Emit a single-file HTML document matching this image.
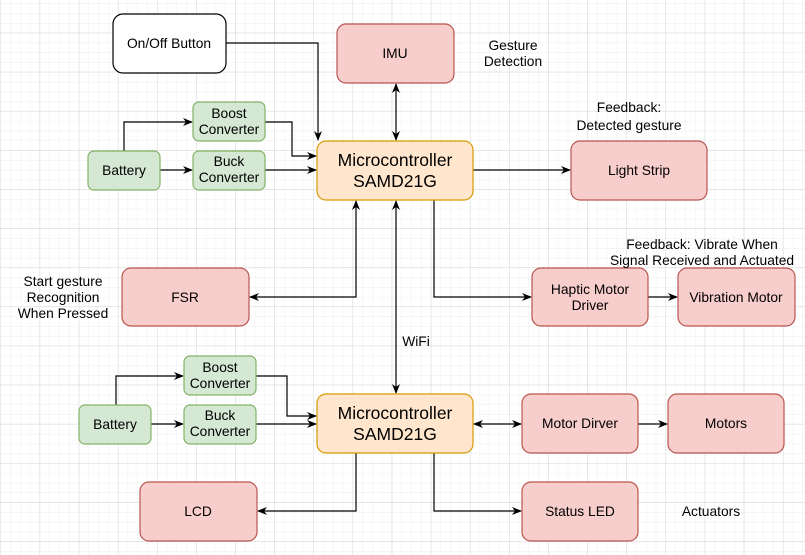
<!DOCTYPE html>
<html><head><meta charset="utf-8"><style>
html,body{margin:0;padding:0;background:#fff}
svg{display:block}
text{font-family:"Liberation Sans",Arial,sans-serif;font-size:13.8px;fill:#000;text-anchor:middle}
.big{font-size:17.5px}
</style></head><body>
<svg width="805" height="555" viewBox="0 0 805 555" xmlns="http://www.w3.org/2000/svg">
<defs>
<pattern id="minor" width="9.78" height="9.78" patternUnits="userSpaceOnUse" x="1" y="4">
<path d="M9.78 0V9.78M0 9.78H9.78" stroke="#eeeeee" stroke-width="1" fill="none"/>
</pattern>
<pattern id="major" width="39.12" height="39.12" patternUnits="userSpaceOnUse" x="1" y="-6">
<path d="M39.12 0V39.12M0 39.12H39.12" stroke="#d6d6d6" stroke-width="1" fill="none"/>
</pattern>
<marker id="a" markerWidth="10" markerHeight="10" refX="9" refY="5" orient="auto" markerUnits="userSpaceOnUse">
<path d="M0,1 L10,5 L0,9 L3,5 Z" fill="#000"/>
</marker>
<marker id="s" markerWidth="10" markerHeight="10" refX="1" refY="5" orient="auto" markerUnits="userSpaceOnUse">
<path d="M10,1 L0,5 L10,9 L7,5 Z" fill="#000"/>
</marker>
</defs>
<rect width="805" height="555" fill="url(#minor)"/>
<rect width="805" height="555" fill="url(#major)"/>

<g fill="none" stroke="#000" stroke-width="1.2">
<path d="M226,43H318V140" marker-end="url(#a)"/>
<path d="M124,151V122H192" marker-end="url(#a)"/>
<path d="M160,170H192" marker-end="url(#a)"/>
<path d="M265,122H292V156H316" marker-end="url(#a)"/>
<path d="M265,170H316" marker-end="url(#a)"/>
<path d="M396,84V140" marker-start="url(#s)" marker-end="url(#a)"/>
<path d="M473,170H570" marker-end="url(#a)"/>
<path d="M356,201V297H250" marker-start="url(#s)" marker-end="url(#a)"/>
<path d="M434,200V297H531" marker-end="url(#a)"/>
<path d="M648,297H677" marker-end="url(#a)"/>
<path d="M396,201V393" marker-start="url(#s)" marker-end="url(#a)"/>
<path d="M116,405V376H183" marker-end="url(#a)"/>
<path d="M151,424H183" marker-end="url(#a)"/>
<path d="M256,376H287V416H316" marker-end="url(#a)"/>
<path d="M256,424H316" marker-end="url(#a)"/>
<path d="M474,424H521" marker-start="url(#s)" marker-end="url(#a)"/>
<path d="M638,424H667" marker-end="url(#a)"/>
<path d="M356,453V511H258" marker-end="url(#a)"/>
<path d="M434,453V511H521" marker-end="url(#a)"/>
</g>

<g stroke-width="1.2">
<rect x="113" y="14" width="113" height="59" rx="10" fill="#fff" stroke="#000"/>
<g fill="#f8cecc" stroke="#b85450">
<rect x="337" y="24" width="117" height="59" rx="9"/>
<rect x="571" y="141" width="136" height="59" rx="9"/>
<rect x="122" y="268" width="127" height="58" rx="9"/>
<rect x="532" y="268" width="116" height="58" rx="9"/>
<rect x="678" y="268" width="117" height="58" rx="9"/>
<rect x="522" y="394" width="116" height="59" rx="9"/>
<rect x="668" y="394" width="116" height="59" rx="9"/>
<rect x="140" y="482" width="117" height="59" rx="9"/>
<rect x="522" y="482" width="116" height="59" rx="9"/>
</g>
<g fill="#d5e8d4" stroke="#82b366">
<rect x="193" y="102" width="72" height="39" rx="6"/>
<rect x="193" y="151" width="72" height="39" rx="6"/>
<rect x="88" y="151" width="72" height="39" rx="6"/>
<rect x="184" y="356" width="72" height="39" rx="6"/>
<rect x="184" y="405" width="72" height="39" rx="6"/>
<rect x="79" y="405" width="72" height="39" rx="6"/>
</g>
<g fill="#ffe6cc" stroke="#d79b00">
<rect x="317" y="141" width="156" height="59" rx="9"/>
<rect x="317" y="394" width="156" height="59" rx="9"/>
</g>
</g>

<text x="169" y="48">On/Off Button</text>
<text x="395" y="58">IMU</text>
<text x="513" y="50">Gesture</text>
<text x="513" y="66">Detection</text>
<text x="229" y="118">Boost</text>
<text x="229" y="134">Converter</text>
<text x="229" y="166">Buck</text>
<text x="229" y="182">Converter</text>
<text x="124" y="175">Battery</text>
<text class="big" x="395" y="166">Microcontroller</text>
<text class="big" x="395" y="187">SAMD21G</text>
<text x="629" y="112">Feedback:</text>
<text x="629" y="130">Detected gesture</text>
<text x="639" y="175">Light Strip</text>
<text x="702" y="249">Feedback: Vibrate When</text>
<text x="702" y="265">Signal Received and Actuated</text>
<text x="63" y="286">Start gesture</text>
<text x="63" y="302">Recognition</text>
<text x="63" y="318">When Pressed</text>
<text x="185" y="302">FSR</text>
<text x="590" y="294">Haptic Motor</text>
<text x="590" y="310">Driver</text>
<text x="736" y="302">Vibration Motor</text>
<text x="416" y="346">WiFi</text>
<text x="220" y="372">Boost</text>
<text x="220" y="388">Converter</text>
<text x="220" y="420">Buck</text>
<text x="220" y="436">Converter</text>
<text x="115" y="429">Battery</text>
<text class="big" x="395" y="419">Microcontroller</text>
<text class="big" x="395" y="440">SAMD21G</text>
<text x="580" y="428">Motor Dirver</text>
<text x="726" y="428">Motors</text>
<text x="198" y="516">LCD</text>
<text x="580" y="516">Status LED</text>
<text x="711" y="516">Actuators</text>
</svg>
</body></html>
